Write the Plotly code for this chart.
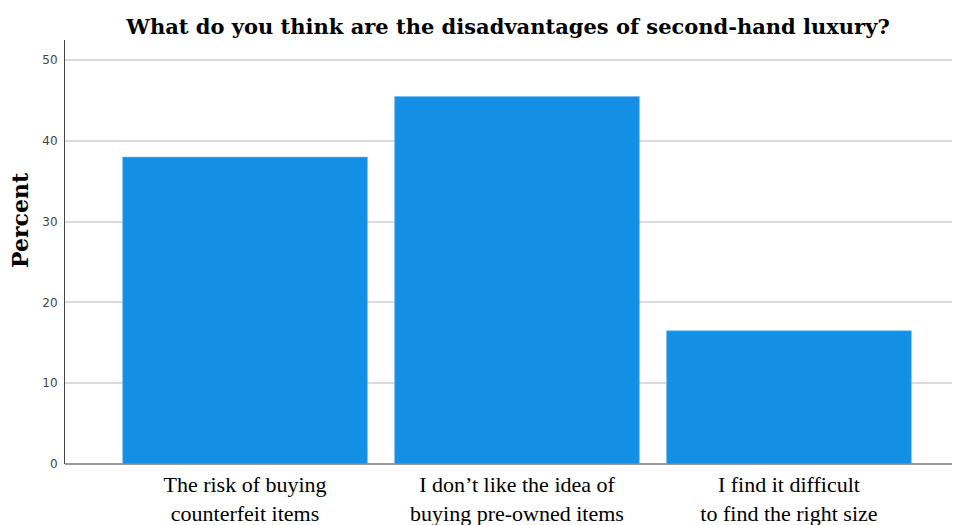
import plotly.graph_objects as go

categories = ["The risk of buying<br>counterfeit items",
              "I don’t like the idea of<br>buying pre-owned items",
              "I find it difficult<br>to find the right size"]
percent = [38.0, 45.5, 16.5]
y_ticks = [0, 10, 20, 30, 40, 50]

# the page body adds an 8px offset; layout below compensates for it
OFF = 8
W, H = 960, 525
L, T, B_PIX, R_PIX = 65 - OFF, 40 - OFF, 464 - OFF, 960 - OFF
plot_w = R_PIX - L
plot_h = B_PIX - T

fig = go.Figure(go.Bar(
    x=categories, y=percent,
    marker=dict(color="#1390E6", line=dict(color="#6fb8ee", width=0.6)),
    width=0.9,
))

fig.update_layout(
    width=W, height=H,
    margin=dict(l=L, r=W - R_PIX, t=T, b=H - B_PIX, autoexpand=False),
    plot_bgcolor="white", paper_bgcolor="white",
    showlegend=False,
    title=dict(text="<b>What do you think are the disadvantages of second-hand luxury?</b>",
               x=(508 - OFF) / W, xanchor="center", y=1 - (27 - OFF) / H, yanchor="middle",
               font=dict(family="DejaVu Serif, serif", size=21, color="black")),
    annotations=[dict(text="<b>Percent</b>",
                      x=(20 - OFF - L) / plot_w, y=(B_PIX - (220 - OFF)) / plot_h,
                      xref="paper", yref="paper", xanchor="center", yanchor="middle",
                      showarrow=False, textangle=-90,
                      font=dict(family="DejaVu Serif, serif", size=22, color="black"))],
)

fig.update_xaxes(
    range=[-0.662, 2.629],
    showline=False, showgrid=False, ticks="",
    tickfont=dict(family="Liberation Serif, Times New Roman, serif", size=22, color="black"),
    ticklabelstandoff=5,
)
fig.update_yaxes(
    range=[0, 52.5],
    tickvals=y_ticks, ticks="",
    showgrid=True, gridcolor="#dadada", gridwidth=1.5,
    showline=True, linecolor="#444444", linewidth=1,
    zeroline=True, zerolinecolor="#999999", zerolinewidth=2,
    tickfont=dict(family="DejaVu Sans, sans-serif", size=12, color="#444444"),
    ticklabelstandoff=4,
)

fig.write_html("out.html")
